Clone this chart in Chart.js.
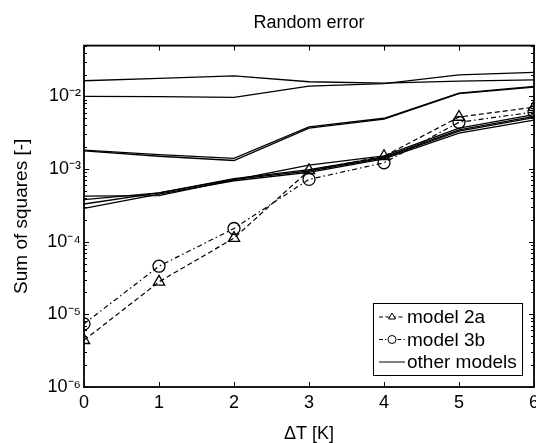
<!DOCTYPE html>
<html><head><meta charset="utf-8">
<script src="https://cdn.jsdelivr.net/npm/chart.js@4.4.0/dist/chart.umd.min.js"></script>
<style>html,body{margin:0;padding:0;background:#fff;overflow:hidden}</style>
</head><body>
<canvas id="c" width="536" height="443"></canvas>
<script>
// ---- data ----
const deltaT = [0, 1, 2, 3, 4, 5, 6];
const model2a = [4.4e-6, 2.8e-5, 1.12e-4, 9.6e-4, 1.50e-3, 5.2e-3, 7.1e-3];
const model3b = [7.4e-6, 4.6e-5, 1.52e-4, 7.2e-4, 1.22e-3, 4.4e-3, 6.1e-3];
const otherA = [0.0164, 0.0177, 0.0192, 0.0159, 0.0152, 0.0162, 0.0169];
const otherB = [0.0100, 0.0099, 0.0097, 0.0138, 0.0150, 0.0198, 0.0214];
const otherM1 = [0.00182, 0.00158, 0.00140, 0.00380, 0.00500, 0.0111, 0.0137];
const otherM2 = [0.00178, 0.00150, 0.00131, 0.00365, 0.00485, 0.0109, 0.0134];
const otherL1 = [0.000425, 0.00043, 0.00071, 0.00113, 0.00152, 0.00365, 0.0056];
const otherL2 = [0.000380, 0.00047, 0.00074, 0.00098, 0.00146, 0.00345, 0.0053];
const otherL3 = [0.000330, 0.00047, 0.00072, 0.00094, 0.00142, 0.00332, 0.0051];
const otherL4 = [0.000288, 0.00045, 0.00069, 0.00090, 0.00138, 0.00312, 0.0047];
const otherModels = [otherA, otherB, otherM1, otherM2, otherL1, otherL2, otherL3, otherL4];
const xTicks = [0, 1, 2, 3, 4, 5, 6];
const yMajorTicks = [1e-6, 1e-5, 1e-4, 1e-3, 1e-2];
const yMin = 1e-6, yMax = 0.05;
const legendLabels = ['model 2a', 'model 3b', 'other models'];
const titleText = 'Random error';
const xTitle = '\u0394T [K]';
const yTitle = 'Sum of squares [-]';

const FONT = '"Liberation Sans", Arial, sans-serif';
const toPts = arr => deltaT.map((x, i) => ({x: x, y: arr[i]}));
const SUP = {'-': '\u207B', '0': '\u2070', '1': '\u00B9', '2': '\u00B2', '3': '\u00B3', '4': '\u2074', '5': '\u2075', '6': '\u2076', '7': '\u2077', '8': '\u2078', '9': '\u2079'};
const supStr = s => String(s).split('').map(c => SUP[c] || c).join('');

const datasets = otherModels.map(arr => ({
  data: toPts(arr), borderColor: '#000', borderWidth: 1.3, pointRadius: 0, fill: false, tension: 0
}));
datasets.push({
  data: toPts(model2a), borderColor: '#000', borderWidth: 1.2, borderDash: [5, 3],
  pointStyle: 'triangle', pointRadius: 6.5, pointBorderWidth: 1.3,
  pointBorderColor: '#000', pointBackgroundColor: 'rgba(0,0,0,0)', fill: false, tension: 0
});
datasets.push({
  data: toPts(model3b), borderColor: '#000', borderWidth: 1.2, borderDash: [5, 3, 1.5, 3],
  pointStyle: 'circle', pointRadius: 6, pointBorderWidth: 1.3,
  pointBorderColor: '#000', pointBackgroundColor: 'rgba(0,0,0,0)', fill: false, tension: 0
});

const isMajor = v => yMajorTicks.some(m => Math.abs(m - v) / m < 1e-6);

const frame = {
  id: 'frame',
  afterDraw(chart) {
    const ctx = chart.ctx, a = chart.chartArea;
    const xs = chart.scales.x, ys = chart.scales.y;
    ctx.save();
    ctx.strokeStyle = '#000';
    ctx.lineWidth = 1;
    ctx.setLineDash([]);
    ctx.beginPath();
    ys.ticks.forEach(t => {
      const py = Math.round(ys.getPixelForValue(t.value)) + 0.5;
      const len = isMajor(t.value) ? 5 : 3;
      ctx.moveTo(a.left, py); ctx.lineTo(a.left + len, py);
      ctx.moveTo(a.right, py); ctx.lineTo(a.right - len, py);
    });
    xTicks.forEach(v => {
      const px = Math.round(xs.getPixelForValue(v)) + 0.5;
      ctx.moveTo(px, a.bottom); ctx.lineTo(px, a.bottom - 5);
      ctx.moveTo(px, a.top); ctx.lineTo(px, a.top + 5);
    });
    ctx.stroke();
    ctx.lineWidth = 1.8;
    ctx.strokeRect(a.left, a.top, a.right - a.left, a.bottom - a.top);

    // legend
    const w = 149, h = 72;
    const lx = a.right - 12 - w, ly = a.bottom - 12 - h;
    ctx.fillStyle = '#fff';
    ctx.fillRect(lx, ly, w, h);
    ctx.lineWidth = 1;
    ctx.strokeRect(Math.round(lx) + 0.5, Math.round(ly) + 0.5, w, h);
    const styles = [
      {dash: [4, 2.5], marker: 'triangle'},
      {dash: [4, 2, 1.2, 2], marker: 'circle'},
      {dash: [], marker: null}
    ];
    ctx.font = '19px ' + FONT;
    ctx.textBaseline = 'middle';
    ctx.textAlign = 'left';
    legendLabels.forEach((lab, i) => {
      const cy = ly + 14 + i * 22.5;
      ctx.strokeStyle = '#000';
      ctx.lineWidth = 1;
      ctx.setLineDash(styles[i].dash);
      ctx.beginPath();
      ctx.moveTo(lx + 6, cy); ctx.lineTo(lx + 32, cy);
      ctx.stroke();
      ctx.setLineDash([]);
      if (styles[i].marker) {
        ctx.fillStyle = '#fff';
        Chart.helpers.drawPoint(ctx, {pointStyle: styles[i].marker, radius: 4, borderWidth: 1}, lx + 19, cy);
      }
      ctx.fillStyle = '#000';
      ctx.fillText(lab, lx + 34, cy + 1);
    });
    ctx.restore();
  }
};

new Chart(document.getElementById('c'), {
  type: 'line',
  data: {datasets: datasets},
  plugins: [frame],
  options: {
    responsive: false,
    animation: false,
    events: [],
    layout: {autoPadding: false, padding: {left: 0, right: 2, top: 0, bottom: 0}},
    plugins: {
      legend: {display: false},
      tooltip: {enabled: false},
      title: {
        display: true, text: titleText, color: '#000', fullSize: false,
        font: {family: FONT, size: 18, weight: 'normal'},
        padding: {top: 12, bottom: 12}
      }
    },
    scales: {
      x: {
        type: 'linear', min: 0, max: 6,
        grid: {display: false, drawTicks: false},
        border: {display: false},
        afterBuildTicks: s => { s.ticks = xTicks.map(v => ({value: v})); },
        afterFit: s => { s.height = 56; s.paddingLeft = 0; s.paddingRight = 0; },
        ticks: {color: '#000', font: {family: FONT, size: 18}, padding: 5, maxRotation: 0, autoSkip: false,
                callback: v => String(v)},
        title: {display: true, text: xTitle, color: '#000', font: {family: FONT, size: 18},
                padding: {top: 0, bottom: -2}}
      },
      y: {
        type: 'logarithmic', min: yMin, max: yMax,
        grid: {display: false, drawTicks: false},
        border: {display: false},
        afterBuildTicks: s => {
          const t = [];
          for (let e = -6; e <= -2; e++) {
            for (let m = 1; m <= 9; m++) {
              const v = m * Math.pow(10, e);
              if (v <= yMax * 1.0000001) t.push({value: v});
            }
          }
          s.ticks = t;
        },
        afterFit: s => { s.width = 84; s.paddingTop = 0; s.paddingBottom = 0; },
        ticks: {
          color: '#000', font: {family: FONT, size: 18}, padding: 3, autoSkip: false,
          callback: v => isMajor(v) ? '10' + supStr(Math.round(Math.log10(v))) : ''
        },
        title: {display: true, text: yTitle, color: '#000', font: {family: FONT, size: 19},
                padding: {top: 10, bottom: 0}}
      }
    }
  }
});
</script>
</body></html>
